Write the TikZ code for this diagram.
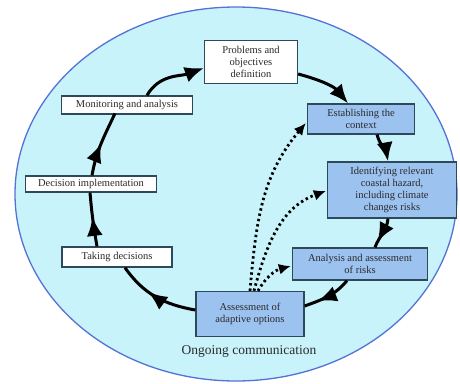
\documentclass[tikz,border=0pt]{standalone}
\usepackage{fontspec}
\setmainfont{Liberation Serif}
\usetikzlibrary{arrows.meta,calc,decorations.markings}
\definecolor{ellfill}{HTML}{C8F3FA}
\definecolor{ellline}{HTML}{5572D6}
\definecolor{boxblue}{HTML}{9CC2F0}
\definecolor{boxline}{HTML}{2E4A5A}
\definecolor{txt}{HTML}{2A2A2A}
\tikzset{
  box/.style={draw=boxline, line width=1.3pt, align=center, inner sep=1pt, font=\fontsize{10.5}{12}\selectfont, text=txt},
  whitebox/.style={box, fill=white},
  bluebox/.style={box, fill=boxblue},
  flow/.style={line width=3pt, draw=black},
  endtip/.style={-{Latex[length=19pt,width=16pt]}},
  midtip/.style={postaction={decorate}, decoration={markings, mark=at position #1 with {\arrow{Latex[length=19pt,width=16pt]}}}},
  dotflow/.style={line width=2.8pt, dash pattern=on 2.4pt off 3pt, -{Latex[length=12pt,width=11pt]}},
}
\begin{document}
\begin{tikzpicture}[x=1pt,y=1pt]
\useasboundingbox (0,0) rectangle (460,-383);
\fill[white] (0,0) rectangle (460,-383);
\draw[fill=ellfill, draw=ellline, line width=1.3pt] (236,-194) ellipse [x radius=221, y radius=187];

\node[whitebox, minimum width=93pt, minimum height=43pt] (prob) at (251,-62) {Problems and\\objectives\\definition};
\node[bluebox, minimum width=107pt, minimum height=30pt] (est) at (361,-119) {Establishing the\\context};
\node[bluebox, minimum width=129pt, minimum height=56pt] (ident) at (392,-190) {Identifying relevant\\coastal hazard,\\including climate\\changes risks};
\node[bluebox, minimum width=135pt, minimum height=32pt] (anal) at (360,-264) {Analysis and assessment\\of risks};
\node[bluebox, minimum width=108pt, minimum height=45pt] (assess) at (250,-314) {Assessment of\\adaptive options};
\node[whitebox, minimum width=110pt, minimum height=20pt] (take) at (117,-257) {Taking decisions};
\node[whitebox, minimum width=131pt, minimum height=16pt] (dec) at (91,-184) {Decision implementation};
\node[whitebox, minimum width=131pt, minimum height=18pt] (mon) at (127,-105) {Monitoring and analysis};
\node[font=\fontsize{13.5}{15}\selectfont, text=txt] (comm) at (249,-351) {Ongoing communication};

% main cycle
\draw[flow, endtip] ($(mon.north)+(20,0)$) to[out=60, in=200] ($(prob.west)+(0,-6)$);
\draw[flow, endtip] ($(prob.east)+(0,-12)$) to[out=-15, in=130] ($(est.north)+(-13,0)$);
\draw[flow, endtip] ($(est.south)+(16,0)$) to[out=-75, in=100] ($(ident.north)+(-4,0)$);
\draw[flow, midtip=0.8] ($(ident.south)+(-4,0)$) to[out=-95, in=70] ($(anal.north)+(15,0)$);
\draw[flow, midtip=0.72] ($(anal.south)+(-13,0)$) to[out=-130, in=20] ($(assess.east)+(0,8)$);
\draw[flow, midtip=0.6] ($(assess.west)+(0,4)$) to[out=170, in=-55] ($(take.south)+(8,0)$);
\draw[flow, midtip=0.55] ($(take.north)+(-20,0)$) to[out=100, in=-85] ($(dec.south)+(-1,0)$);
\draw[flow, midtip=0.5] ($(dec.north)+(1,0)$) to[out=80, in=-115] ($(mon.north)+(-12,-18)$);

% dotted
\draw[dotflow] ($(assess.north)+(0,0)$) to[out=85, in=-130] ($(est.west)+(-1,-4)$);
\draw[dotflow] ($(assess.north)+(4,0)$) to[out=75, in=200] ($(ident.west)+(-1,-1)$);
\draw[dotflow] ($(assess.north)+(8,0)$) to[out=60, in=195] ($(anal.west)+(-1,-2)$);
\end{tikzpicture}
\end{document}
